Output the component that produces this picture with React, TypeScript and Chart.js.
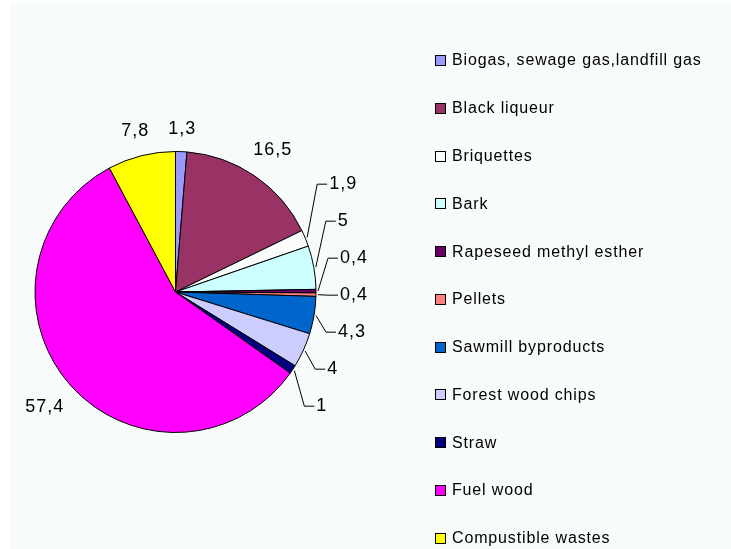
import React, { useEffect, useRef } from "react";
import { Chart, registerables } from "chart.js";

Chart.register(...registerables);

const categories = [
  "Biogas, sewage gas,landfill gas",
  "Black liqueur",
  "Briquettes",
  "Bark",
  "Rapeseed methyl esther",
  "Pellets",
  "Sawmill byproducts",
  "Forest wood chips",
  "Straw",
  "Fuel wood",
  "Compustible wastes",
];
const shares = [1.3, 16.5, 1.9, 5, 0.4, 0.4, 4.3, 4, 1, 57.4, 7.8];
const sliceColors = [
  "#9999ff",
  "#993366",
  "#fafcfb",
  "#ccffff",
  "#660066",
  "#ff8080",
  "#0066cc",
  "#ccccff",
  "#000080",
  "#ff00ff",
  "#ffff00",
];

const W = 731;
const H = 549;
const BG = "#f7fbf9";
const LABEL_FONT = "18px 'Liberation Sans', Arial, sans-serif";
const LEGEND_FONT = "16px 'Liberation Sans', Arial, sans-serif";

const fmt = (v: number) => String(v).replace(".", ",");

const backgroundPlugin = {
  id: "bgPanel",
  beforeDraw(chart: any) {
    const ctx = chart.ctx;
    ctx.save();
    ctx.fillStyle = "#ffffff";
    ctx.fillRect(0, 0, chart.width, chart.height);
    ctx.fillStyle = BG;
    ctx.fillRect(10, 3, chart.width - 10, chart.height - 3);
    ctx.restore();
  },
};

const labelPlugin = {
  id: "outLabels",
  afterDatasetsDraw(chart: any) {
    const ctx = chart.ctx;
    const meta = chart.getDatasetMeta(0);
    ctx.save();
    ctx.font = LABEL_FONT;
    try { (ctx as any).letterSpacing = "1px"; } catch (e) {}
    const h = 16;
    const items = meta.data.map((arc: any, i: number) => {
      const p = arc.getProps(["x", "y", "startAngle", "endAngle", "outerRadius"], true);
      const mid = (p.startAngle + p.endAngle) / 2;
      const text = fmt(shares[i]);
      const w = ctx.measureText(text).width;
      const c = Math.cos(mid);
      const s = Math.sin(mid);
      const d = p.outerRadius + 14 + (Math.abs(c) * w) / 2 + (Math.abs(s) * h) / 2;
      return {
        text, w, c, s, cx: p.x, cy: p.y, r: p.outerRadius,
        lx: p.x + c * d, ly: p.y + s * d, grouped: false, y: p.y + s * d,
      };
    });
    // group crowded neighbouring labels
    const groups: number[][] = [];
    let cur: number[] = [0];
    for (let i = 1; i < items.length; i++) {
      const a = items[i - 1];
      const b = items[i];
      if (Math.abs(a.ly - b.ly) < 40 && Math.abs(a.lx - b.lx) < 40) {
        cur.push(i);
      } else {
        groups.push(cur);
        cur = [i];
      }
    }
    groups.push(cur);
    const spacing = 37;
    groups.forEach((g) => {
      if (g.length < 2) return;
      const sorted = [...g].sort((p, q) => items[p].ly - items[q].ly);
      const n = sorted.length;
      const center =
        n % 2 === 1
          ? items[sorted[(n - 1) / 2]].ly
          : (items[sorted[n / 2 - 1]].ly + items[sorted[n / 2]].ly) / 2;
      sorted.forEach((idx, k) => {
        items[idx].grouped = true;
        items[idx].y = center + (k - (n - 1) / 2) * spacing;
      });
    });
    ctx.fillStyle = "#000";
    ctx.strokeStyle = "#000";
    ctx.lineWidth = 1;
    ctx.textBaseline = "middle";
    items.forEach((it: any) => {
      if (!it.grouped) {
        ctx.textAlign = "center";
        ctx.fillText(it.text, it.lx, it.ly);
        return;
      }
      const side = it.lx >= it.cx ? 1 : -1;
      const ex = it.cx + it.c * (it.r + 2);
      const ey = it.cy + it.s * (it.r + 2);
      const bx = ex + 10 * side;
      const endX = ex + 20 * side;
      ctx.beginPath();
      ctx.moveTo(ex, ey);
      ctx.lineTo(bx, it.y);
      ctx.lineTo(endX, it.y);
      ctx.stroke();
      ctx.textAlign = side > 0 ? "left" : "right";
      ctx.fillText(it.text, ex + 22 * side, it.y);
    });
    ctx.restore();
  },
};

const legendPlugin = {
  id: "sideLegend",
  afterDraw(chart: any) {
    const ctx = chart.ctx;
    const labels = chart.data.labels as string[];
    const colors = chart.data.datasets[0].backgroundColor as string[];
    ctx.save();
    ctx.font = LEGEND_FONT;
    try { (ctx as any).letterSpacing = "0.85px"; } catch (e) {}
    ctx.textBaseline = "middle";
    ctx.textAlign = "left";
    ctx.lineWidth = 1;
    labels.forEach((lab, i) => {
      const y = 60.5 + i * 47.78;
      ctx.fillStyle = colors[i];
      ctx.fillRect(435.5, Math.round(y - 5.5) + 0.5, 10, 10);
      ctx.strokeStyle = "#000";
      ctx.strokeRect(435.5, Math.round(y - 5.5) + 0.5, 10, 10);
      ctx.fillStyle = "#000";
      ctx.fillText(lab, 452, y + 0.5);
    });
    ctx.restore();
  },
};

export default function App() {
  const ref = useRef<HTMLCanvasElement | null>(null);
  useEffect(() => {
    if (!ref.current) return;
    const chart = new Chart(ref.current, {
      type: "pie",
      data: {
        labels: categories,
        datasets: [
          {
            data: shares,
            backgroundColor: sliceColors,
            borderColor: "#000000",
            borderWidth: 1,
          },
        ],
      },
      options: {
        responsive: false,
        animation: false,
        devicePixelRatio: 1,
        layout: { padding: { left: 34.5, right: 414.5, top: 151, bottom: 116 } },
        plugins: {
          legend: { display: false },
          tooltip: { enabled: false },
          title: { display: false },
        },
      },
      plugins: [backgroundPlugin, labelPlugin, legendPlugin],
    });
    return () => chart.destroy();
  }, []);
  return (
    <div style={{ position: "fixed", left: 0, top: 0, width: W, height: H }}>
      <canvas ref={ref} width={W} height={H} style={{ display: "block" }} />
    </div>
  );
}
